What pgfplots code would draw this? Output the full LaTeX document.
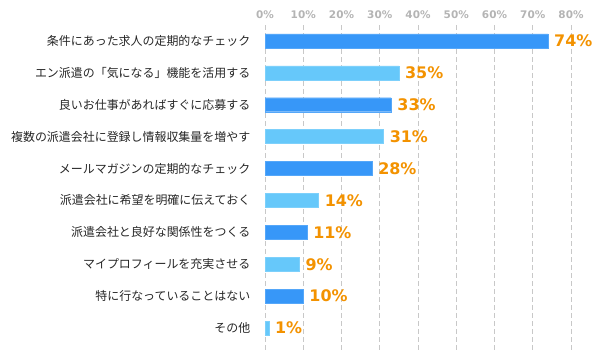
\documentclass[border=0pt]{standalone}
\usepackage{pgfplots}
\pgfplotsset{compat=1.18}
\usepackage{fontspec}
\setmainfont{DejaVu Sans}
\newfontfamily\jp{Noto Sans CJK JP}
\definecolor{darkb}{HTML}{3797F8}
\definecolor{lightb}{HTML}{66C8FA}
\definecolor{valor}{HTML}{F39200}
\definecolor{tickg}{HTML}{B4B4B4}
\definecolor{gridg}{HTML}{C8C8C8}
\begin{document}
\begin{tikzpicture}
\path[use as bounding box] (0bp,0bp) rectangle (600bp,351bp);
\begin{axis}[
  at={(265bp,0bp)}, anchor=south west,
  scale only axis, width=306bp, height=326bp,
  xmin=0, xmax=80, ymin=-0.5, ymax=9.72, y dir=reverse,
  axis line style={draw=none},
  tick style={draw=none},
  xtick={0,10,...,80},
  xticklabel pos=upper,
  /pgf/number format/assume math mode=true,
  xticklabel={\pgfmathprintnumber{\tick}\%},
  xticklabel style={font=\bfseries\fontsize{10.5}{10.5}\selectfont, text=tickg, yshift=3bp},
  xmajorgrids,
  grid style={gridg, dash pattern=on 5bp off 3bp, line width=0.8bp},
  ytick={0,...,9},
  yticklabels={条件にあった求人の定期的なチェック,エン派遣の「気になる」機能を活用する,良いお仕事があればすぐに応募する,複数の派遣会社に登録し情報収集量を増やす,メールマガジンの定期的なチェック,派遣会社に希望を明確に伝えておく,派遣会社と良好な関係性をつくる,マイプロフィールを充実させる,特に行なっていることはない,その他},
  yticklabel style={font=\jp\fontsize{12}{12}\selectfont, text=black!85, xshift=-7bp},
  xbar, bar width=14bp, bar shift=0pt,
  nodes near coords={\pgfmathprintnumber{\pgfplotspointmeta}\%},
  nodes near coords style={font=\bfseries\fontsize{16}{16}\selectfont, text=valor, anchor=west, inner sep=1bp, xshift=5bp},
  clip=false,
]
\addplot[fill=darkb, draw=darkb!85!white] coordinates {(74,0) (33,2) (28,4) (11,6) (10,8)};
\addplot[fill=lightb, draw=lightb!85!white] coordinates {(35,1) (31,3) (14,5) (9,7) (1,9)};
\end{axis}
\end{tikzpicture}
\end{document}
